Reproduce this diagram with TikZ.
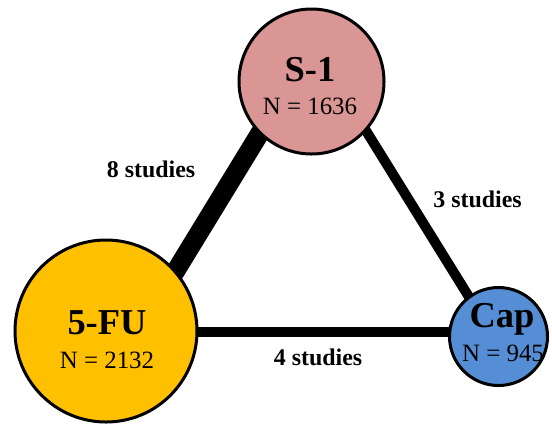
\documentclass[tikz,border=0pt]{standalone}
\usepackage{fontspec}
\setmainfont{Liberation Serif}
\usetikzlibrary{backgrounds}
\definecolor{pinkS}{HTML}{DA9694}
\definecolor{goldF}{HTML}{FFC000}
\definecolor{blueC}{HTML}{558ED5}
\begin{document}
\begin{tikzpicture}[x=1bp,y=-1bp,
  drug/.style={draw=black, line width=3bp, circle, inner sep=0pt},
  title/.style={font=\fontsize{36.6}{40}\selectfont\bfseries, anchor=base, inner sep=0pt},
  count/.style={font=\fontsize{25}{28}\selectfont, anchor=base, inner sep=0pt},
  studies/.style={font=\fontsize{24}{28}\selectfont\bfseries, anchor=base, inner sep=0pt}]
\useasboundingbox (0,0) rectangle (552,424);
\node[drug, fill=pinkS, minimum size=145bp] (s1) at (311.5,81.5) {};
\node[drug, fill=goldF, minimum size=182bp] (fu) at (106,331) {};
\node[drug, fill=blueC, minimum size=98bp] (cap) at (498.5,336.5) {};
\begin{scope}[on background layer]
\draw[line width=19bp] ([xshift=-20bp]s1.center) -- ([xshift=33bp]fu.center);
\draw[line width=10bp] ([xshift=24bp]s1.center) -- ([xshift=-5bp]cap.center);
\draw[line width=10bp] ([yshift=-1bp]fu.center) -- ([yshift=-1bp]fu.center -| cap.center);
\end{scope}
\node[title] (s1t) at (310,81) {S-1};
\node[count] (s1n) at (310,114) {N = 1636};
\node[title] (fut) at (107,334) {5-FU};
\node[count] (fun) at (107,368) {N = 2132};
\node[title] (capt) at (502,327) {Cap};
\node[count] (capn) at (503,361) {N = 945};
\node[studies] (l8) at (151,177) {8 studies};
\node[studies] (l3) at (477.5,207) {3 studies};
\node[studies] (l4) at (318,365) {4 studies};
\end{tikzpicture}
\end{document}
